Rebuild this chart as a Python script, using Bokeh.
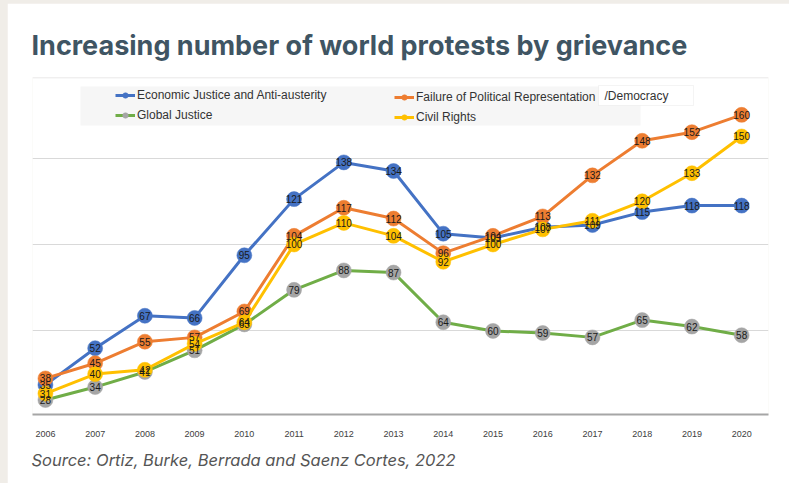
from bokeh.plotting import figure
from bokeh.models import (Label, Legend, LegendItem, Span, FixedTicker, BoxAnnotation, Title)
from bokeh.layouts import column
from bokeh.embed import file_html
from bokeh.resources import INLINE
from bokeh.core.properties import value

years = list(range(2006, 2021))
economic = [35, 52, 67, 66, 95, 121, 138, 134, 105, 103, 108, 109, 115, 118, 118]
political = [38, 45, 55, 57, 69, 104, 117, 112, 96, 104, 113, 132, 148, 152, 160]
global_justice = [28, 34, 41, 51, 63, 79, 88, 87, 64, 60, 59, 57, 65, 62, 58]
civil = [31, 40, 42, 54, 64, 100, 110, 104, 92, 100, 107, 111, 120, 133, 150]
grid_values = [60, 100, 140]

series = [
    ("Economic Justice and Anti-austerity", economic, "#4472C4", "#4472C4"),
    ("Failure of Political Representation", political, "#ED7D31", "#ED7D31"),
    ("Global Justice", global_justice, "#70AD47", "#A5A5A5"),
    ("Civil Rights", civil, "#FFC000", "#FFC000"),
]

NARROW = "'Liberation Sans Narrow', 'Liberation Sans', sans-serif"

p = figure(width=782, height=480, x_range=(2005.74, 2020.54), y_range=(21.3, 177.3),
           output_backend="svg", toolbar_location=None,
           min_border_left=25, min_border_right=21, min_border_top=74, min_border_bottom=69)
p.margin = (3, 0, 0, 7)
p.outline_line_color = None
p.background_fill_color = "white"
p.border_fill_color = "white"
p.yaxis.visible = False
p.xgrid.visible = False
p.ygrid.ticker = FixedTicker(ticks=grid_values)
p.ygrid.grid_line_color = "#d9d9d9"
p.ygrid.grid_line_width = 1
p.xaxis.ticker = FixedTicker(ticks=years)
p.xaxis.axis_line_color = "#a6a6a6"
p.xaxis.axis_line_width = 2
p.xaxis.major_tick_line_color = None
p.xaxis.minor_tick_line_color = None
p.xaxis.major_label_text_font = NARROW
p.xaxis.major_label_text_font_size = "9px"
p.xaxis.major_label_text_color = "#404040"
p.xaxis.major_label_standoff = 10

# title and source as plot titles
p.title.text = "Increasing number of world protests by grievance"
p.title.align = "left"
p.title.offset = -1
p.title.text_font = "Inter"
p.title.text_font_style = "bold"
p.title.text_font_size = "27px"
p.title.text_color = "#3f5563"
p.title.standoff = 32

p.add_layout(Title(text="Source: Ortiz, Burke, Berrada and Saenz Cortes, 2022", align="left", offset=-1,
                   text_font="Inter", text_font_style="italic", text_font_size="16.5px",
                   text_color="#555555", standoff=17), "below")

# divider line under title (top edge of frame)
p.add_layout(Span(location=p.y_range.end, dimension="width", line_color="#e3e3e3", line_width=1.5))

# legend background
p.add_layout(BoxAnnotation(left=48, right=608, top=328, bottom=289,
                           left_units="screen", right_units="screen", top_units="screen", bottom_units="screen",
                           fill_color="#f6f6f6", fill_alpha=1, line_color=None, level="underlay"))
# /Democracy box
p.add_layout(BoxAnnotation(left=566, right=661, top=329, bottom=309,
                           left_units="screen", right_units="screen", top_units="screen", bottom_units="screen",
                           fill_color="white", fill_alpha=1, line_color="#dcdcdc", line_width=1, level="underlay"))
p.add_layout(Label(x=572, y=319, x_units="screen", y_units="screen", text="/Democracy",
                   text_font=NARROW, text_font_size="12px", text_color="#333333",
                   text_baseline="middle"))

renderers = {}
for name, vals, lc, mc in series:
    rl = p.line(years, vals, line_color=lc, line_width=3)
    rs = p.scatter(years, vals, size=15, fill_color=mc, line_color=mc, line_width=0.5)
    renderers[name] = (rl, rs)

for name, vals, lc, mc in series:
    p.text(years, vals, text=[str(v) for v in vals], text_align="center", text_baseline="middle",
           text_font=value(NARROW), text_font_size="10px", text_color="#1a1a1a")

def mk_legend(names, loc):
    items = [LegendItem(label=n, renderers=list(renderers[n])) for n in names]
    lg = Legend(items=items, location=loc, orientation="vertical", padding=0, margin=0,
                spacing=6, glyph_width=20, glyph_height=14, label_height=14, label_standoff=2,
                border_line_color=None, background_fill_alpha=0,
                label_text_font=NARROW, label_text_font_size="12px", label_text_color="#333333")
    p.add_layout(lg, "center")

mk_legend(["Economic Justice and Anti-austerity", "Global Justice"], (83, 292))
mk_legend(["Failure of Political Representation", "Civil Rights"], (362, 290))

layout = column(p, styles={"background-color": "#f0ede8"})
open("out.html", "w").write(file_html(layout, INLINE))
